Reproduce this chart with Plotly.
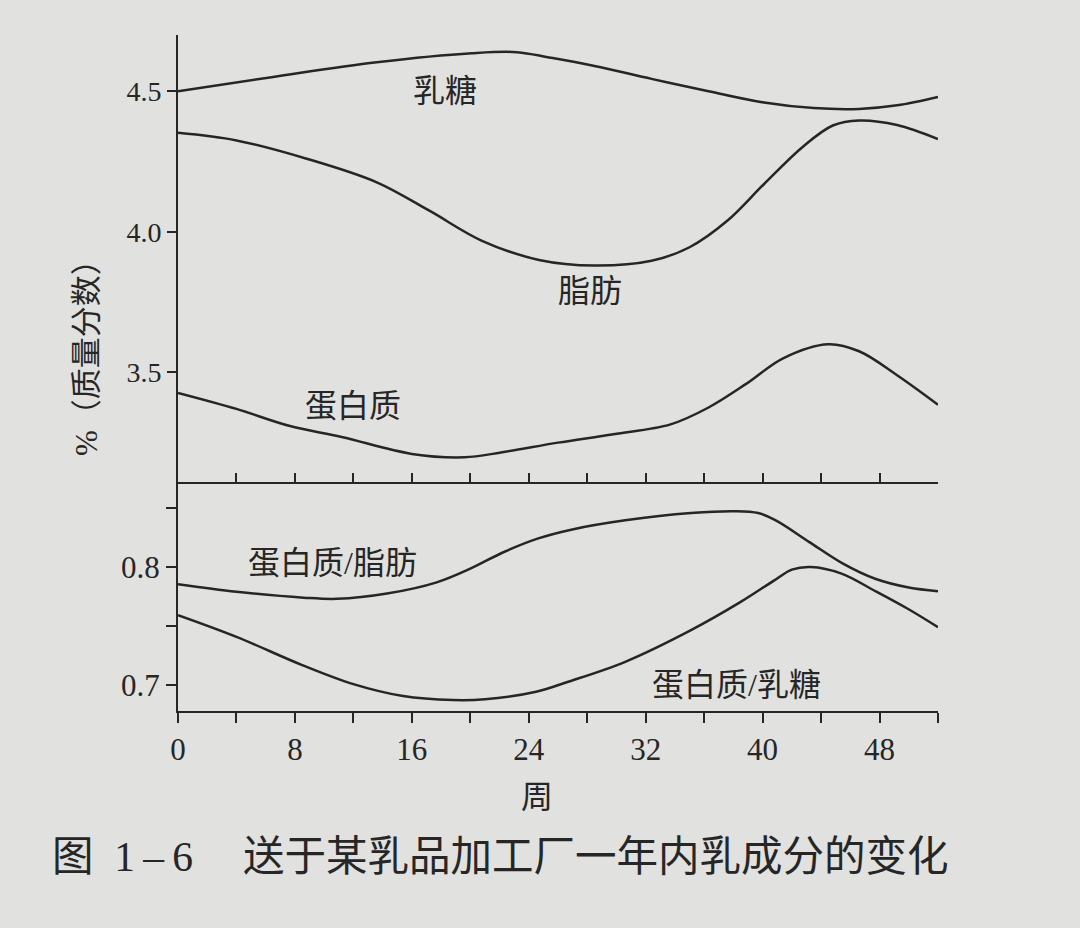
import plotly.graph_objects as go

# 周数与各成分含量
lactose_wk = [0, 6.4, 13.6, 20.1, 23.2, 25.4, 28.5, 32.4, 36.3, 40.1, 43.5, 46.6, 49.2, 52]
lactose = [4.50, 4.55, 4.603, 4.635, 4.639, 4.62, 4.59, 4.544, 4.50, 4.46, 4.44, 4.437, 4.45, 4.48]

fat_wk = [0, 4, 8.8, 13.6, 17.2, 20.8, 24.7, 28.5, 32.4, 35, 37.6, 40.1, 42.7, 44.8, 46.6, 49.2, 52]
fat = [4.352, 4.325, 4.26, 4.176, 4.075, 3.968, 3.90, 3.88, 3.897, 3.945, 4.04, 4.17, 4.30, 4.378, 4.396, 4.38, 4.33]

protein_wk = [0, 4, 7.6, 11.2, 16, 19.6, 22.1, 26, 29.8, 33.7, 36.3, 38.9, 41.4, 44.5, 46.6, 49.2, 52]
protein = [3.427, 3.37, 3.31, 3.27, 3.21, 3.198, 3.215, 3.25, 3.28, 3.315, 3.375, 3.46, 3.55, 3.60, 3.575, 3.49, 3.385]

pf_wk = [0, 4, 8.6, 10.9, 14.3, 17.7, 20, 22.3, 24.6, 26.9, 30.6, 35.1, 38.1, 39.7, 40.9, 43.2, 45.5, 47.7, 50, 52]
prot_fat = [0.7854, 0.779, 0.774, 0.773, 0.7775, 0.787, 0.7986, 0.8127, 0.824, 0.8316, 0.8395, 0.8457,
            0.8473, 0.8457, 0.8395, 0.8211, 0.8028, 0.790, 0.7826, 0.7795]

pl_wk = [0, 4, 8.5, 12, 15.4, 18.8, 21, 24.5, 26.7, 30.6, 35.1, 38.5, 40.8, 42, 43.3, 45.4, 47.6, 49.9, 52]
prot_lac = [0.7592, 0.7408, 0.7169, 0.7008, 0.6907, 0.6873, 0.6879, 0.6943, 0.7028, 0.7197, 0.7465, 0.7704,
            0.7887, 0.7978, 0.80, 0.7944, 0.7803, 0.7648, 0.749]

top_ticks = [3.5, 4.0, 4.5]
top_labels = ["3.5", "4.0", "4.5"]

FONT = "Liberation Serif, Noto Sans CJK SC, serif"
INK = "#262626"
PAPER = "#e1e1df"

fig = go.Figure()

line_style = dict(color=INK, width=2.5, shape="spline", smoothing=1.0)
for wk, vals in [(lactose_wk, lactose), (fat_wk, fat), (protein_wk, protein)]:
    fig.add_trace(go.Scatter(x=wk, y=vals, mode="lines", line=line_style,
                             xaxis="x2", yaxis="y2", showlegend=False, hoverinfo="skip"))
for wk, vals in [(pf_wk, prot_fat), (pl_wk, prot_lac)]:
    fig.add_trace(go.Scatter(x=wk, y=vals, mode="lines", line=line_style,
                             xaxis="x", yaxis="y", showlegend=False, hoverinfo="skip"))

split = (711 - 482) / 676

fig.update_layout(
    width=1080, height=928,
    margin=dict(l=178, r=142, t=35, b=217),
    paper_bgcolor=PAPER, plot_bgcolor=PAPER,
    font=dict(family=FONT, color=INK),
    xaxis=dict(range=[0, 52], anchor="y", showline=True, linecolor=INK, linewidth=2,
               showgrid=False, zeroline=False, ticks="outside", ticklen=10, tickwidth=2,
               tickcolor=INK, tick0=0, dtick=8, tickfont=dict(size=31, family=FONT),
               minor=dict(dtick=4, tick0=0, ticks="outside", ticklen=10, tickwidth=2, tickcolor=INK)),
    xaxis2=dict(range=[0, 52], anchor="y2", matches="x", showline=True, linecolor=INK, linewidth=2,
                showgrid=False, zeroline=False, ticks="inside", ticklen=9, tickwidth=2,
                tickcolor=INK, tick0=0, dtick=4, showticklabels=False),
    yaxis=dict(domain=[0, split], range=[0.678, 0.872], anchor="x", showline=True, linecolor=INK,
               linewidth=2, showgrid=False, zeroline=False, ticks="outside", ticklen=10, tickwidth=2,
               tickcolor=INK, tick0=0.7, dtick=0.1, tickformat=".1f", tickfont=dict(size=31, family=FONT),
               minor=dict(dtick=0.05, tick0=0.7, ticks="outside", ticklen=10, tickwidth=2, tickcolor=INK)),
    yaxis2=dict(domain=[split, 1], range=[3.11, 4.70], anchor="x2", showline=True, linecolor=INK,
                linewidth=2, showgrid=False, zeroline=False, ticks="outside", ticklen=9, tickwidth=2,
                tickcolor=INK, tickvals=top_ticks, ticktext=top_labels, tickfont=dict(size=28, family=FONT)),
)

label_font = dict(size=32, family=FONT, color=INK)
for txt, xx, yy, ax in [("乳糖", 18.3, 4.50, "2"), ("脂肪", 28.2, 3.79, "2"), ("蛋白质", 12.0, 3.38, "2"),
                        ("蛋白质/脂肪", 10.6, 0.803, ""), ("蛋白质/乳糖", 38.2, 0.70, "")]:
    fig.add_annotation(x=xx, y=yy, xref="x" + ax, yref="y" + ax, text=txt, showarrow=False, font=label_font)

fig.add_annotation(xref="paper", yref="paper", x=(86 - 178) / 760, y=(711 - 350) / 676,
                   xanchor="center", yanchor="middle",
                   text="%（质量分数）", textangle=-90, showarrow=False, font=dict(size=31, family=FONT, color=INK))
fig.add_annotation(xref="paper", yref="paper", x=(537 - 178) / 760, y=(711 - 797) / 676,
                   xanchor="center", yanchor="middle",
                   text="周", showarrow=False, font=dict(size=32, family=FONT, color=INK))
fig.add_annotation(xref="paper", yref="paper", x=(50 - 178) / 760, y=(711 - 857) / 676,
                   xanchor="left", yanchor="middle",
                   text="图\u20021\u2009–\u20096\u3000\u2009送于某乳品加工厂一年内乳成分的变化", showarrow=False,
                   font=dict(size=41.5, family=FONT, color=INK))

fig.write_html("out.html", config={"displayModeBar": False},
               post_script="document.body.style.margin='0';")
